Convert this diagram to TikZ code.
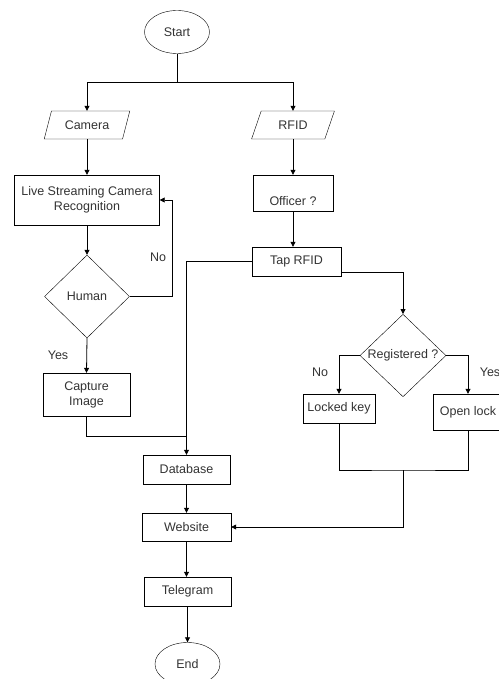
\documentclass[tikz,border=0pt]{standalone}
\usepackage{fontspec}
\setmainfont{Liberation Sans}
\usetikzlibrary{shapes.geometric,arrows.meta}
\begin{document}
\begin{tikzpicture}[x=1pt,y=-1pt,
  every node/.style={font=\fontsize{12.5}{15}\selectfont, text=black!80},
  box/.style={draw, rectangle, inner sep=0pt, align=center},
  term/.style={draw, ellipse, minimum width=65pt, minimum height=43pt, inner sep=0pt},
  io/.style={draw, trapezium, trapezium left angle=63, trapezium right angle=117, trapezium stretches=true, minimum height=28pt, inner sep=0pt},
  dec/.style={draw, diamond, inner sep=0pt},
  lbl/.style={inner sep=0pt},
  line/.style={draw, line width=0.8pt},
  arr/.style={line, -{Triangle[width=5pt,length=5pt]}}
]
\useasboundingbox (0,0) rectangle (498,679);
\node[term] (start) at (177,32) {Start};
\node[io, minimum width=86pt] (cam) at (87,125) {Camera};
\node[io, minimum width=83pt] (rfid) at (293,125) {RFID};
\node[box, minimum width=145pt, minimum height=50pt] (live) at (87,200) {Live Streaming Camera\\Recognition};
\node[box, minimum width=80pt, minimum height=36pt, text height=24pt, text depth=0pt] (off) at (293,193) {Officer ?};
\node[box, minimum width=89pt, minimum height=29pt] (tap) at (296.5,261.5) {Tap RFID};
\node[dec, minimum width=85pt, minimum height=83pt] (human) at (87,296.5) {Human};
\node[box, minimum width=87pt, minimum height=43pt] (cap) at (86.5,394.5) {Capture\\Image};
\node[box, minimum width=87pt, minimum height=29pt] (db) at (186.5,469.5) {Database};
\node[box, minimum width=89pt, minimum height=28pt] (web) at (186.5,527) {Website};
\node[box, minimum width=87pt, minimum height=29pt] (tel) at (187.5,591.5) {Telegram};
\node[term] (end) at (187.5,664) {End};
\node[dec, minimum width=86pt, minimum height=79pt] (reg) at (403,355.5) {Registered ?};
\node[box, minimum width=72pt, minimum height=29pt] (lock) at (339,408.5) {Locked key};
\node[box, minimum width=70pt, minimum height=36pt] (open) at (468,412) {Open lock};
\node[lbl] (no1) at (158,257) {No};
\node[lbl] (yes1) at (58,355) {Yes};
\node[lbl] (no2) at (320,372) {No};
\node[lbl] (yes2) at (490,372) {Yes};
\coordinate (split) at (177,82);
\coordinate (j1) at (186.5,436);
\coordinate (j2) at (403,470);
\draw[line] (start.south) -- (split);
\draw[arr] (split) -| (cam.center |- cam.north);
\draw[arr] (split) -| (rfid.center |- rfid.north);
\draw[arr] (cam.center |- cam.south) -- (live.north);
\draw[arr] (live.south) -- (human.north);
\draw[arr] (human.east) -- ++(43,0) |- (live.east);
\draw[arr] (human.south) -- (cap.north);
\draw[line] (cap.south) |- (j1);
\draw[arr] (tap.west) -| (db.north);
\draw[arr] (db.south) -- (web.north);
\draw[arr] (web.south) -- (web.south |- tel.north);
\draw[arr] (tel.south) -- (end.north);
\draw[arr] (rfid.center |- rfid.south) -- (off.north);
\draw[arr] (off.south) -- (off.south |- tap.north);
\draw[arr] ([yshift=-10.5pt]tap.east) -| (reg.north);
\draw[arr] (reg.west) -| (lock.north);
\draw[arr] (reg.east) -| (open.north);
\draw[line] (lock.south) |- (j2) -| (open.south);
\draw[arr] (j2) |- (web.east);
\end{tikzpicture}
\end{document}
